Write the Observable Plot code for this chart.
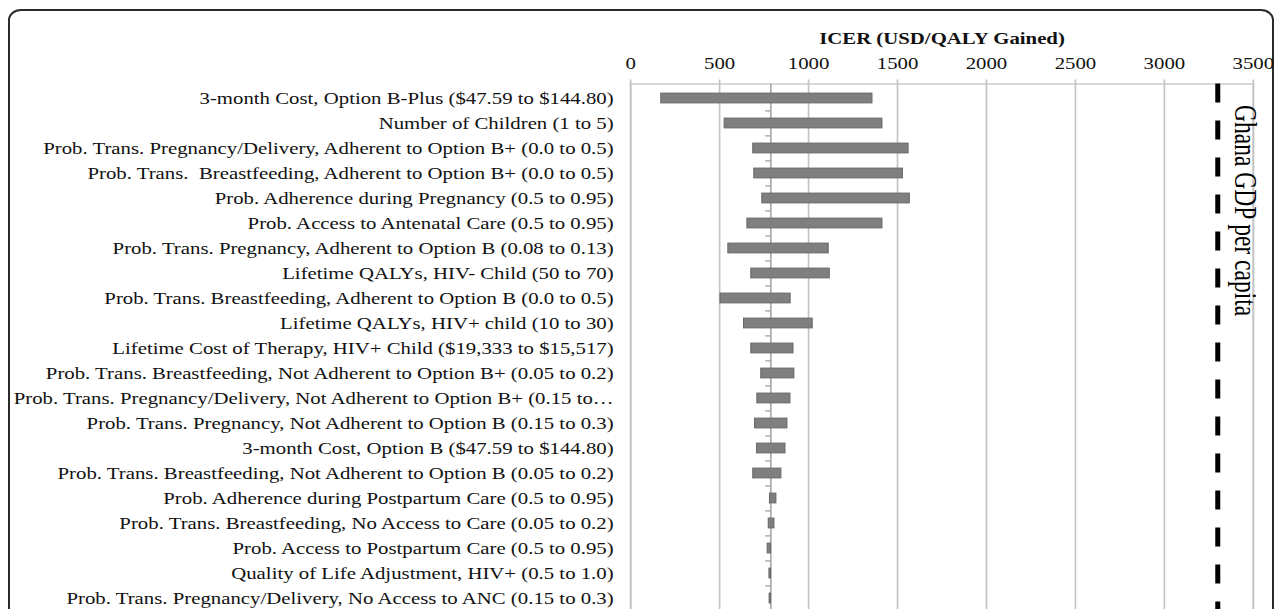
<!DOCTYPE html>
<html><head><meta charset="utf-8">
<script src="https://cdn.jsdelivr.net/npm/d3@7"></script>
<script src="https://cdn.jsdelivr.net/npm/@observablehq/plot@0.6"></script>
<style>
html,body{margin:0;padding:0;background:#fff;overflow:hidden;}
#wrap{position:relative;width:1281px;height:609px;overflow:hidden;background:#fff;}
#border{position:absolute;left:8px;top:9px;width:1266px;height:720px;border:2px solid #2b2b2b;border-radius:13px/11px;box-sizing:border-box;}
#chart{position:absolute;left:0;top:0;}
</style></head><body>
<div id="wrap"><div id="border"></div><div id="chart"></div></div>
<script>
const parameters = [
  "3-month Cost, Option B-Plus ($47.59 to $144.80)",
  "Number of Children (1 to 5)",
  "Prob. Trans. Pregnancy/Delivery, Adherent to Option B+ (0.0 to 0.5)",
  "Prob. Trans.  Breastfeeding, Adherent to Option B+ (0.0 to 0.5)",
  "Prob. Adherence during Pregnancy (0.5 to 0.95)",
  "Prob. Access to Antenatal Care (0.5 to 0.95)",
  "Prob. Trans. Pregnancy, Adherent to Option B (0.08 to 0.13)",
  "Lifetime QALYs, HIV- Child (50 to 70)",
  "Prob. Trans. Breastfeeding, Adherent to Option B (0.0 to 0.5)",
  "Lifetime QALYs, HIV+ child (10 to 30)",
  "Lifetime Cost of Therapy, HIV+ Child ($19,333 to $15,517)",
  "Prob. Trans. Breastfeeding, Not Adherent to Option B+ (0.05 to 0.2)",
  "Prob. Trans. Pregnancy/Delivery, Not Adherent to Option B+ (0.15 to\u2026",
  "Prob. Trans. Pregnancy, Not Adherent to Option B (0.15 to 0.3)",
  "3-month Cost, Option B ($47.59 to $144.80)",
  "Prob. Trans. Breastfeeding, Not Adherent to Option B (0.05 to 0.2)",
  "Prob. Adherence during Postpartum Care (0.5 to 0.95)",
  "Prob. Trans. Breastfeeding, No Access to Care (0.05 to 0.2)",
  "Prob. Access to Postpartum Care (0.5 to 0.95)",
  "Quality of Life Adjustment, HIV+ (0.5 to 1.0)",
  "Prob. Trans. Pregnancy/Delivery, No Access to ANC (0.15 to 0.3)"
];
const lowICER  = [173, 529, 690, 696, 741, 657, 550, 679, 506, 638, 679, 735, 713, 700, 711, 690, 784, 777, 771, 781, 782];
const highICER = [1360, 1416, 1563, 1531, 1570, 1416, 1114, 1120, 900, 1024, 916, 921, 899, 882, 871, 848, 820, 809, 790, 790, 790];
const baseICER = 788;
const gdpPerCapita = 3300;
const gdpLabel = "Ghana GDP per capita";
const axisTitle = "ICER (USD/QALY Gained)";
const xTicks = [0, 500, 1000, 1500, 2000, 2500, 3000, 3500];

const rows = parameters.map((p, i) => ({parameter: p, low: lowICER[i], high: highICER[i]}));

const K = 1.3;               // horizontal stretch of the original figure
const W = 1281 / K;
const mTop = 83.5, mBottom = 12;
const step = 25.2;
const H = mTop + mBottom + step * parameters.length;
const grid = "#c4c4c4";

const chart = Plot.plot({
  width: W, height: H,
  marginLeft: 630 / K, marginRight: W - 1252.7 / K, marginTop: mTop, marginBottom: mBottom,
  style: {fontFamily: "'Liberation Serif','Times New Roman',serif", fontSize: "16px", color: "#111", background: "transparent", overflow: "visible"},
  x: {domain: [0, 3500], axis: null},
  y: {domain: parameters, paddingInner: 0.62, paddingOuter: 0.31, axis: null},
  marks: [
    Plot.frame({stroke: grid, strokeWidth: 1.3}),
    Plot.ruleX(xTicks, {stroke: grid, strokeWidth: 1.3}),
    Plot.axisX(xTicks, {anchor: "top", tickSize: 5, tickFormat: () => "", stroke: grid, strokeWidth: 1.3, label: null}),
    Plot.axisX(xTicks, {anchor: "top", tickSize: 0, tickPadding: 15, tickFormat: d => String(d), label: null, fill: "#111"}),
    Plot.axisY({anchor: "left", tickSize: 0, tickPadding: (630 - 613) / K, label: null, fill: "#111"}),
    Plot.ruleX([baseICER], {stroke: "#ababab", strokeWidth: 1.3}),
    Plot.ruleY(parameters.slice(1), {y: d => d, x1: () => baseICER, x2: () => baseICER, insetLeft: -5 / K, dy: -step / 2, stroke: "#9a9a9a", strokeWidth: 1.2}),
    Plot.barX(rows, {y: "parameter", x1: "low", x2: "high", fill: "#7f7f7f", stroke: "#686868", strokeWidth: 0.8}),
    Plot.ruleX([gdpPerCapita], {stroke: "#000", strokeWidth: 5 / K, strokeDasharray: "19,18"}),
    Plot.text([gdpLabel], {x: () => gdpPerCapita, frameAnchor: "top", rotate: 90, textAnchor: "start", lineAnchor: "middle", dx: 20.5, dy: 21, fontSize: 23.5, fill: "#000"}),
    Plot.text([axisTitle], {frameAnchor: "top", lineAnchor: "bottom", dy: -40, fontWeight: "bold", fontSize: 16, fill: "#111"})
  ]
});
chart.setAttribute("width", 1281);
chart.setAttribute("preserveAspectRatio", "none");
chart.style.width = "1281px";
chart.style.height = H + "px";
chart.style.maxWidth = "none";
document.getElementById("chart").appendChild(chart);
</script>
</body></html>
